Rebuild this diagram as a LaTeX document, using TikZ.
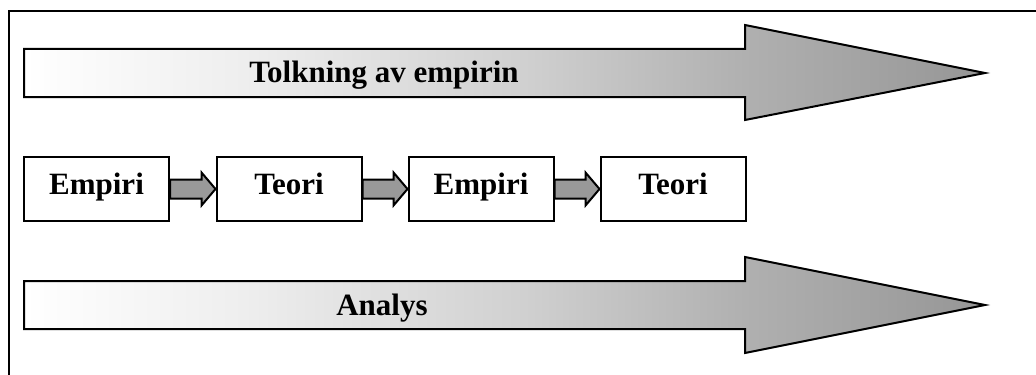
\documentclass[tikz,border=0pt]{standalone}
\usepackage{fontspec}
\setmainfont{Liberation Serif}
\usetikzlibrary{calc}
\definecolor{gA}{gray}{0.933}
\definecolor{gB}{gray}{0.816}
\definecolor{gC}{gray}{0.69}
\definecolor{gD}{gray}{0.588}
\pgfdeclarehorizontalshading{bigshade}{100bp}{color(0bp)=(white); color(25bp)=(white); color(36.5bp)=(gA); color(51bp)=(gB); color(62.5bp)=(gC); color(75bp)=(gD); color(100bp)=(gD)}
\begin{document}
\begin{tikzpicture}[x=0.5pt,y=-0.5pt,
  lbl/.style={font=\bfseries\fontsize{15.5}{18}\selectfont, inner sep=0},
  stepbox/.style={draw, line width=1pt, fill=white, minimum width=72.5pt, minimum height=32pt,
    inner sep=0, text height=0.78em, text depth=0.22em, font=\bfseries\fontsize{15.5}{18}\selectfont},
  bigarrow/.style={draw, line width=1pt, shade, shading=bigshade, line join=miter},
  link/.style={draw, line width=1pt, fill=black!40, line join=miter}]
\useasboundingbox (0,0) rectangle (1036,374);
\clip (0,0) rectangle (1036,374);
\draw[line width=1pt] (9,11) rectangle (1060,400);

% big arrows
\path[bigarrow] (24,49) -- (745,49) -- (745,25) -- (985,73) -- (745,120) -- (745,97) -- (24,97) -- cycle;
\path[bigarrow] (24,281) -- (745,281) -- (745,257) -- (985,305) -- (745,353) -- (745,329) -- (24,329) -- cycle;
\node[lbl, anchor=base] (t1) at (384,83) {Tolkning av empirin};
\node[lbl, anchor=base] (t2) at (382,315) {Analys};

% boxes
\node[stepbox] (b1) at (96.5,189) {Empiri};
\node[stepbox] (b2) at (289,189) {Teori};
\node[stepbox] (b3) at (481,189) {Empiri};
\node[stepbox] (b4) at (673,189) {Teori};

% links
\foreach \a/\b in {b1/b2,b2/b3,b3/b4}{
  \path[link] ($(\a.east)+(0,-9.5)$) -- ($(\b.west)+(-14,-9.5)$) -- ($(\b.west)+(-14,-16.5)$)
    -- (\b.west) -- ($(\b.west)+(-14,16.5)$) -- ($(\b.west)+(-14,9.5)$) -- ($(\a.east)+(0,9.5)$) -- cycle;
}
\end{tikzpicture}
\end{document}
